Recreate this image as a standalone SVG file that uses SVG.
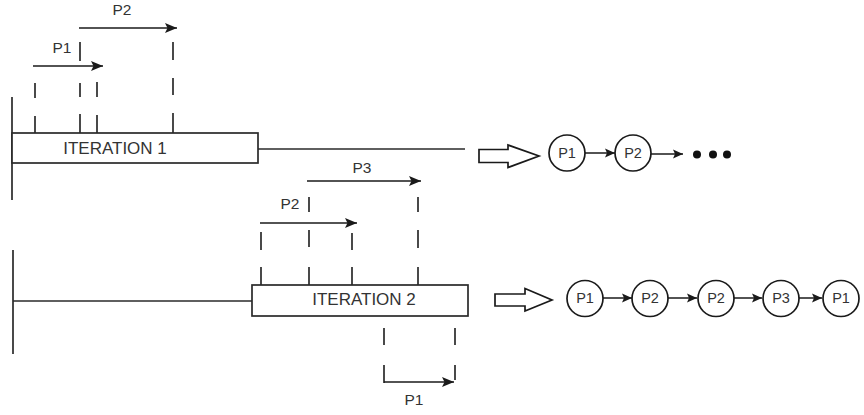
<svg xmlns="http://www.w3.org/2000/svg" width="864" height="415" viewBox="0 0 864 415">
<defs>
<marker id="ah" markerUnits="userSpaceOnUse" markerWidth="13" markerHeight="11" refX="12" refY="5.5" orient="auto">
<path d="M0,0.5 L12,5.5 L0,10.5 L2.5,5.5 Z" fill="#1a1a1a"/>
</marker>
<marker id="ahs" markerUnits="userSpaceOnUse" markerWidth="11" markerHeight="10" refX="10" refY="5" orient="auto">
<path d="M0,0.5 L10,5 L0,9.5 L2,5 Z" fill="#1a1a1a"/>
</marker>
</defs>
<style>
.ln{stroke:#2a2a2a;stroke-width:1.7;fill:none}
.dash{stroke:#2a2a2a;stroke-width:1.7}
.box{fill:#fff;stroke:#2a2a2a;stroke-width:1.7}
.arr{stroke:#1a1a1a;stroke-width:1.6;fill:none;marker-end:url(#ah)}
.carr{stroke:#1a1a1a;stroke-width:1.5;fill:none;marker-end:url(#ahs)}
.hollow{fill:#fff;stroke:#1a1a1a;stroke-width:1.7}
.nd{fill:#fff;stroke:#1a1a1a;stroke-width:1.7}
.t{font-family:"Liberation Sans",Arial,sans-serif;fill:#333;text-anchor:middle}
.lbl{font-size:15.5px}
.it{font-size:17px}
.nt{font-size:14.5px}
</style>

<g id="timeline1">
<line class="ln" x1="12" y1="97" x2="12" y2="200"/>
<line class="ln" x1="258" y1="149" x2="465" y2="149"/>
<rect id="iteration1" class="box" x="12" y="133" width="246" height="30"/>
<text class="t it" x="115" y="154">ITERATION 1</text>
</g>

<g id="ticks1">
<line class="dash" x1="35" y1="83" x2="35" y2="98"/>
<line class="dash" x1="35" y1="116" x2="35" y2="133"/>
<line class="dash" x1="97" y1="82" x2="97" y2="97"/>
<line class="dash" x1="97" y1="115" x2="97" y2="133"/>
<line class="dash" x1="80" y1="42" x2="80" y2="61"/>
<line class="dash" x1="80" y1="83" x2="80" y2="97"/>
<line class="dash" x1="80" y1="114" x2="80" y2="133"/>
<line class="dash" x1="173" y1="42" x2="173" y2="60"/>
<line class="dash" x1="173" y1="78" x2="173" y2="95"/>
<line class="dash" x1="173" y1="113" x2="173" y2="133"/>
</g>

<g id="timeline2">
<line class="ln" x1="13" y1="250" x2="13" y2="354"/>
<line class="ln" x1="13" y1="301" x2="252" y2="301"/>
<rect id="iteration2" class="box" x="252" y="285" width="216" height="31"/>
<text class="t it" x="364" y="305">ITERATION 2</text>
</g>

<g id="ticks2">
<line class="dash" x1="261" y1="232" x2="261" y2="250"/>
<line class="dash" x1="261" y1="267" x2="261" y2="285"/>
<line class="dash" x1="309" y1="197" x2="309" y2="212"/>
<line class="dash" x1="309" y1="230" x2="309" y2="247"/>
<line class="dash" x1="309" y1="267" x2="309" y2="285"/>
<line class="dash" x1="352" y1="233" x2="352" y2="250"/>
<line class="dash" x1="352" y1="267" x2="352" y2="285"/>
<line class="dash" x1="418" y1="197" x2="418" y2="212"/>
<line class="dash" x1="418" y1="230" x2="418" y2="248"/>
<line class="dash" x1="418" y1="267" x2="418" y2="285"/>
<line class="dash" x1="384" y1="328" x2="384" y2="345"/>
<line class="dash" x1="384" y1="365" x2="384" y2="383"/>
<line class="dash" x1="455" y1="328" x2="455" y2="345"/>
<line class="dash" x1="455" y1="365" x2="455" y2="380"/>
</g>

<g id="connectors">
<line class="arr" x1="33" y1="66" x2="103" y2="66"/>
<line class="arr" x1="79" y1="28" x2="177" y2="28"/>
<line class="arr" x1="260" y1="223" x2="357" y2="223"/>
<line class="arr" x1="307" y1="181" x2="421" y2="181"/>
<line class="arr" x1="384" y1="382" x2="454" y2="382"/>
<line class="carr" x1="585" y1="153" x2="615" y2="153"/>
<line class="carr" x1="651" y1="154" x2="683" y2="154"/>
<line class="carr" x1="603" y1="298" x2="632" y2="298"/>
<line class="carr" x1="668" y1="298" x2="697" y2="298"/>
<line class="carr" x1="734" y1="298" x2="762" y2="298"/>
<line class="carr" x1="799" y1="298" x2="822" y2="298"/>
</g>

<g id="labels">
<text class="t lbl" x="62" y="53">P1</text>
<text class="t lbl" x="122" y="15">P2</text>
<text class="t lbl" x="290" y="209">P2</text>
<text class="t lbl" x="362" y="173">P3</text>
<text class="t lbl" x="414" y="405">P1</text>
</g>

<g id="implies1">
<path class="hollow" d="M479,149.5 L508,149.5 L508,145 L539,156 L508,167.5 L508,162.5 L479,162.5 Z"/>
</g>
<g id="implies2">
<path class="hollow" d="M495,294 L525,294 L525,288.5 L552,300 L525,311 L525,306 L495,306 Z"/>
</g>

<g id="n1a"><circle class="nd" cx="567" cy="153" r="18"/><text class="t nt" x="567" y="158">P1</text></g>
<g id="n1b"><circle class="nd" cx="633" cy="153" r="18"/><text class="t nt" x="633" y="158">P2</text></g>
<g id="dots">
<circle cx="697" cy="154.5" r="4" fill="#111"/>
<circle cx="713" cy="154.5" r="4" fill="#111"/>
<circle cx="727" cy="154.5" r="4" fill="#111"/>
</g>

<g id="n2a"><circle class="nd" cx="585" cy="298.5" r="18"/><text class="t nt" x="585" y="303">P1</text></g>
<g id="n2b"><circle class="nd" cx="650" cy="298.5" r="18"/><text class="t nt" x="650" y="303">P2</text></g>
<g id="n2c"><circle class="nd" cx="716" cy="298.5" r="18"/><text class="t nt" x="716" y="303">P2</text></g>
<g id="n2d"><circle class="nd" cx="781" cy="298.5" r="18"/><text class="t nt" x="781" y="303">P3</text></g>
<g id="n2e"><circle class="nd" cx="841" cy="298.5" r="18"/><text class="t nt" x="841" y="303">P1</text></g>
</svg>
